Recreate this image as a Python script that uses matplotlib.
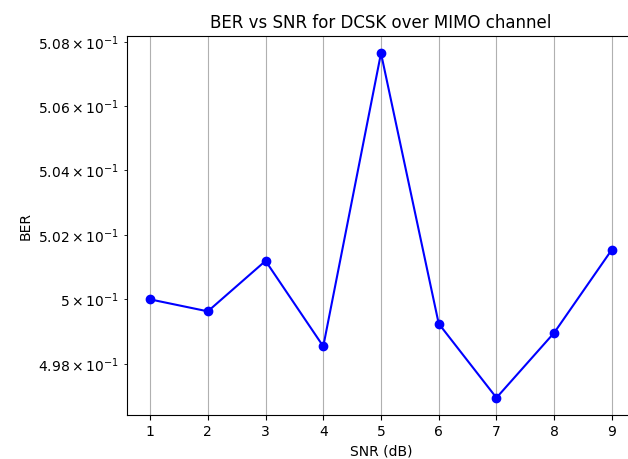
import matplotlib
matplotlib.use('Agg')
import matplotlib.pyplot as plt

snr_db = [1, 2, 3, 4, 5, 6, 7, 8, 9]
ber = [0.50000, 0.49963, 0.50119, 0.49855, 0.50766, 0.49925, 0.49697, 0.49897, 0.50154]

fig = plt.figure(figsize=(6.28, 4.59), dpi=100)
ax = fig.add_axes([127 / 628, 1 - 415 / 459, 508 / 628, 379 / 459])

ax.semilogy(snr_db, ber, 'bo-')
ax.set_xlabel('SNR (dB)')
ax.set_ylabel('BER')
ax.set_title('BER vs SNR for DCSK over MIMO channel')
ax.set_xticks(snr_db)
ax.grid(True)

fig.savefig('out.png', dpi=100)
